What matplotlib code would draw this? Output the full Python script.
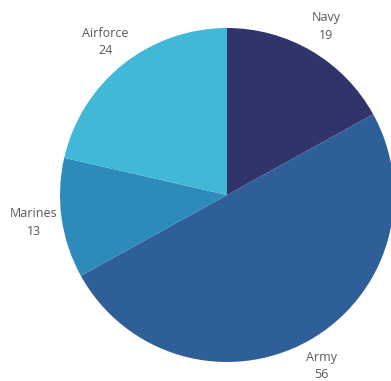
import matplotlib.pyplot as plt

branches = ['Navy', 'Army', 'Marines', 'Airforce']
counts = [19, 56, 13, 24]
colors = ['#30346b', '#2f5f98', '#2d8bbb', '#42b8d8']

plt.rcParams['font.family'] = ['Open Sans', 'DejaVu Sans']

fig = plt.figure(figsize=(3.91, 3.81), dpi=100)
ax = fig.add_axes([0, 0, 1, 1])

labels = [f'{b}\n{c}' for b, c in zip(branches, counts)]
wedges, texts = ax.pie(counts, labels=labels, colors=colors, startangle=90,
                       counterclock=False, center=(227, 186), radius=167,
                       labeldistance=1.17, frame=True,
                       textprops={'fontsize': 9, 'color': '#595959'})
for t in texts:
    t.set_ha('center')
    t.set_va('center')
    t.set_linespacing(1.45)

ax.set_xlim(0, 391)
ax.set_ylim(0, 381)
ax.set_aspect('equal')
ax.axis('off')

fig.savefig('out.png', dpi=100)
